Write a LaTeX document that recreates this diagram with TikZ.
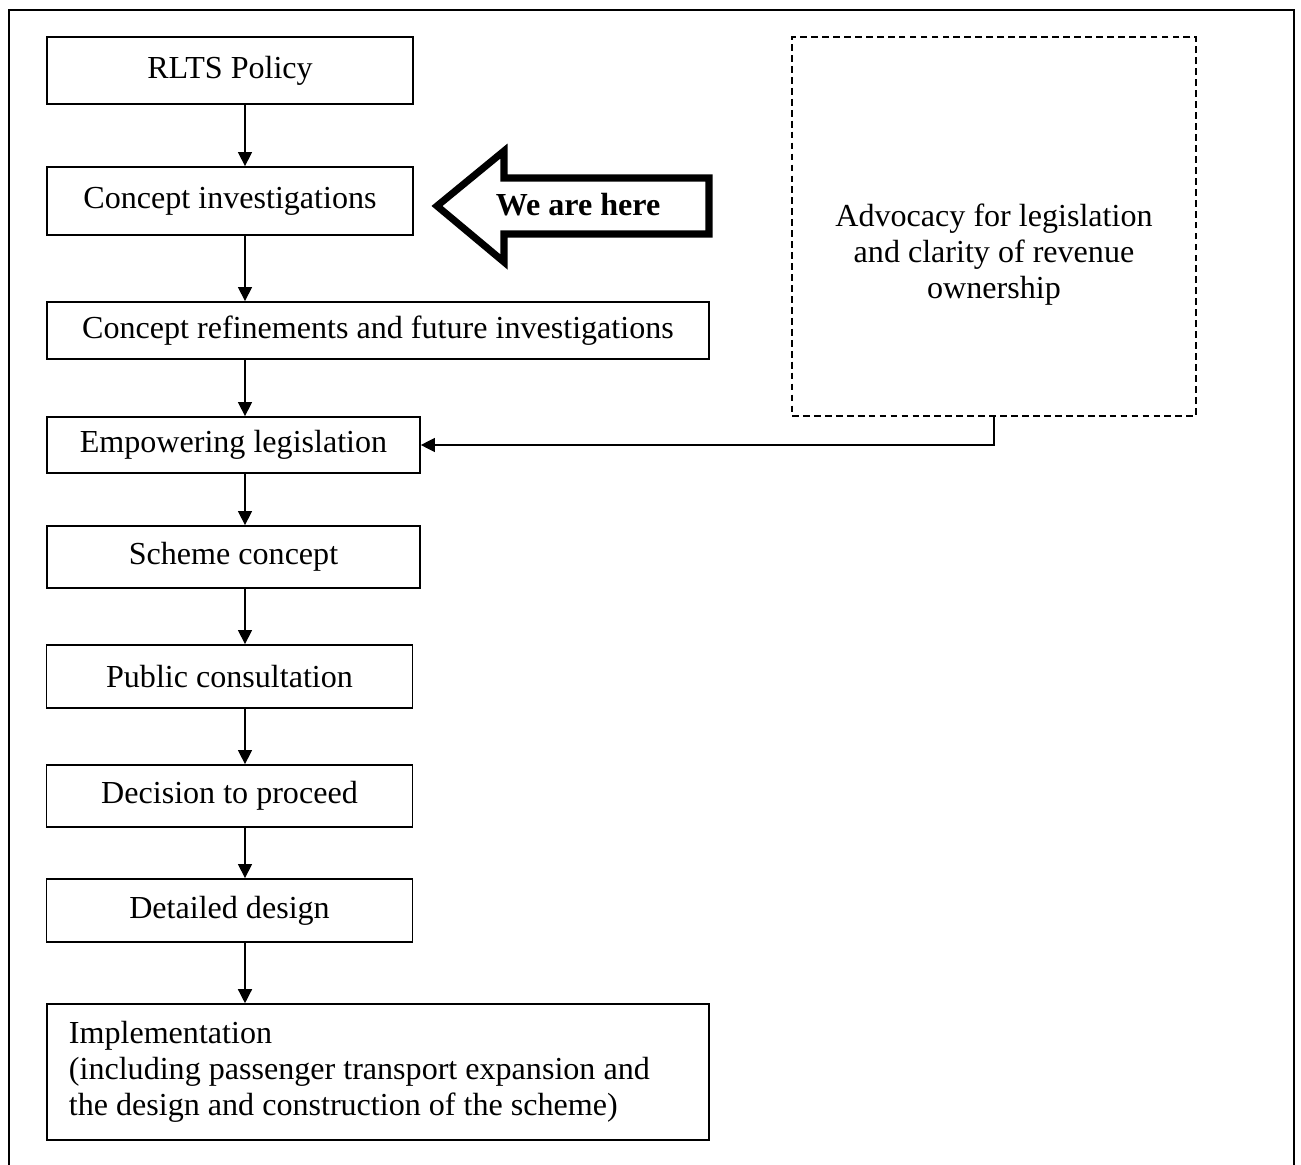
\documentclass[tikz,border=0pt]{standalone}
\usepackage{fontspec}
\setmainfont{Liberation Serif}
\usepackage{tikz}
\usetikzlibrary{arrows.meta}

\begin{document}
\begin{tikzpicture}[
  x=0.3834pt,y=-0.3834pt,
  font={\fontsize{12.3}{13.8}\selectfont},
  stage/.style={draw,line width=0.65pt,minimum width=140.3pt,inner sep=3pt,align=center},
  wide/.style={stage,minimum width=253.8pt},
  lobby/.style={draw,dash pattern=on 2.6pt off 1.6pt,line width=0.55pt,
                minimum width=154.9pt,minimum height=145.3pt},
  flow/.style={-{Triangle[length=5.4pt,width=5.4pt]},line width=0.5pt},
  here/.style={draw,line width=2.7pt,line join=miter},
  lbl/.style={align=center,inner sep=0pt}
]
\useasboundingbox (0,0) rectangle (1301,1165);

%------ frame, open at the foot ----------------------------------------------
\draw[line width=0.9pt] (9,1165) -- (9,10) -- (1294,10) -- (1294,1165);

%------ column : the stages --------------------------------------------------
\node[stage,minimum height=25.7pt] (rlts)   at (230,70.5)   {RLTS Policy};
\node[stage,minimum height=26.1pt] (inv)    at (230,201)    {Concept investigations};
\node[wide,minimum height=21.9pt]  (refine) at (378,330.5)  {Concept refinements and future investigations};
\node[stage,minimum width=143pt,minimum height=21.5pt] (empow)  at (233.5,445) {Empowering legislation};
\node[stage,minimum width=143pt,minimum height=23.8pt] (scheme) at (233.5,557) {Scheme concept};
\node[stage,minimum height=24.2pt] (public) at (229.5,676.5) {Public consultation};
\node[stage,minimum height=23.8pt] (decide) at (229.5,796)   {Decision to proceed};
\node[stage,minimum height=24.2pt] (design) at (229.5,910.5) {Detailed design};
\node[wide,minimum height=52.1pt,align=flush left,text width=237pt,inner xsep=8.4pt] (impl) at (378,1072)
      {Implementation\\(including passenger transport expansion and\\the design and construction of the scheme)};

%------ side box : advocacy ----------------------------------------------------
\node[lobby] (advo) at (994,226.5) {};
\node[lbl] (advotxt) at (994,255) {Advocacy for legislation\\and clarity of revenue\\ownership};

%------ the marker ---------------------------------------------------------------
\draw[here] (437,206) -- (504,151) -- (504,178) -- (709,178) -- (709,234) -- (504,234) -- (504,262) -- cycle;
\node[lbl,font={\fontsize{12.3}{13.8}\selectfont\bfseries}] (we) at (578,205) {We are here};

%------ flow down the column -----------------------------------------------------
\coordinate (spine) at (245,0);
\draw[flow] (rlts.south -| spine)   -- (inv.north -| spine);
\draw[flow] (inv.south -| spine)    -- (refine.north -| spine);
\draw[flow] (refine.south -| spine) -- (empow.north -| spine);
\draw[flow] (empow.south -| spine)  -- (scheme.north -| spine);
\draw[flow] (scheme.south -| spine) -- (public.north -| spine);
\draw[flow] (public.south -| spine) -- (decide.north -| spine);
\draw[flow] (decide.south -| spine) -- (design.north -| spine);
\draw[flow] (design.south -| spine) -- (impl.north -| spine);

%------ advocacy feeds legislation -------------------------------------------------
\draw[flow] (advo.south) |- (empow.east);
\end{tikzpicture}
\end{document}
